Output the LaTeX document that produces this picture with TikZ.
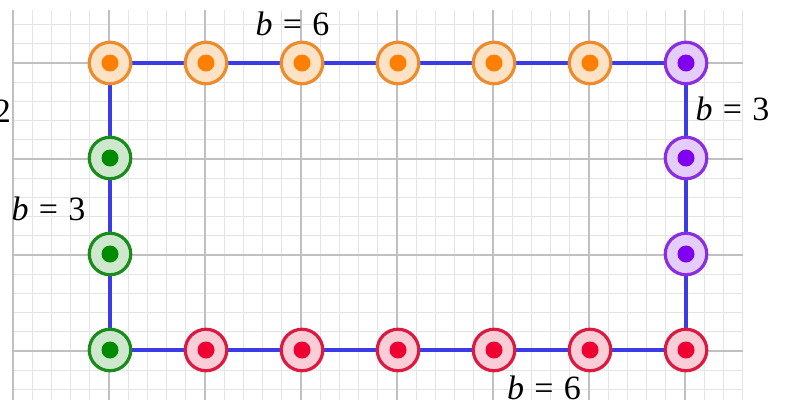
\documentclass[tikz,border=0pt]{standalone}
\usepackage{fontspec}
\setmainfont{Liberation Serif}
\definecolor{minorg}{RGB}{228,228,228}
\definecolor{majorg}{RGB}{192,192,192}
\definecolor{bl}{RGB}{60,60,230}
\definecolor{orD}{RGB}{255,128,0}\definecolor{orR}{RGB}{238,140,45}\definecolor{orF}{RGB}{253,226,198}
\definecolor{grD}{RGB}{0,140,0}\definecolor{grR}{RGB}{25,140,25}\definecolor{grF}{RGB}{205,232,205}
\definecolor{puD}{RGB}{128,0,240}\definecolor{puR}{RGB}{140,45,230}\definecolor{puF}{RGB}{228,205,250}
\definecolor{reD}{RGB}{240,0,50}\definecolor{reR}{RGB}{222,25,65}\definecolor{reF}{RGB}{250,205,215}
\newcommand{\beq}[1]{\textit{b}\hspace{0.3em}=\hspace{0.3em}#1}
\tikzset{
  pt/.style n args={3}{circle,minimum size=41.5pt,inner sep=0pt,draw=#1,line width=3.2pt,fill=#3,
     path picture={\fill[#2] (path picture bounding box.center) circle (8.5pt);}},
  opt/.style={pt={orR}{orD}{orF}},
  gpt/.style={pt={grR}{grD}{grF}},
  ppt/.style={pt={puR}{puD}{puF}},
  rpt/.style={pt={reR}{reD}{reF}},
  lbl/.style={font=\fontsize{34}{36}\selectfont,inner sep=0pt},
}
\begin{document}
\begin{tikzpicture}[x=1pt,y=-1pt]
\useasboundingbox (0,0) rectangle (787,407);
\fill[white] (0,0) rectangle (787,407);
% minor grid
\foreach \i in {0,...,38} \draw[minorg,line width=1pt] (13+19.2*\i,10) -- (13+19.2*\i,400);
\foreach \j in {0,...,19} \draw[minorg,line width=1pt] (13,24.6+19.2*\j) -- (743,24.6+19.2*\j);
% major grid
\foreach \i in {0,...,7} \draw[majorg,line width=1.2pt] (13+96*\i,10) -- (13+96*\i,400);
\foreach \j in {0,...,3} \draw[majorg,line width=1.2pt] (13,63+96*\j) -- (743,63+96*\j);
% corner coordinates
\coordinate (tl) at (110,63);
\coordinate (tr) at (686,63);
\coordinate (br) at (686,350);
\coordinate (bll) at (110,350);
\draw[bl,line width=3.8pt] (tl) -- (tr) -- (br) -- (bll) -- cycle;
% points
\foreach \i in {0,...,5} \node[opt] (o\i) at (110+96*\i,63) {};
\node[ppt] (p0) at (686,63) {};
\node[ppt] (p1) at (686,158) {};
\node[ppt] (p2) at (686,254) {};
\node[gpt] (g0) at (110,350) {};
\node[gpt] (g1) at (110,158) {};
\node[gpt] (g2) at (110,254) {};
\foreach \i in {1,...,6} \node[rpt] (r\i) at (110+96*\i,350) {};
% labels
\node[lbl,anchor=base] (t6) at (292.5,35) {\beq{6}};
\node[lbl,anchor=base] (t3r) at (732.5,120) {\beq{3}};
\node[lbl,anchor=base] (t3l) at (48.5,220) {\beq{3}};
\node[lbl,anchor=base] (t6b) at (544,399) {\beq{6}};
\node[lbl,anchor=base east] (t2) at (11,122) {2};
\end{tikzpicture}
\end{document}
